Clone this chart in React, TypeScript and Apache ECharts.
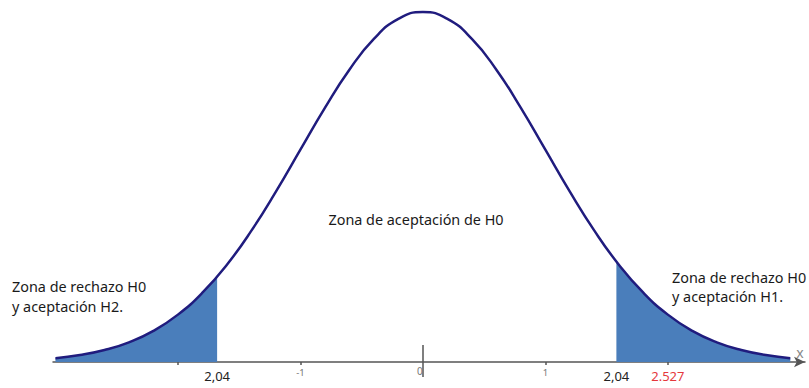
import React, { useEffect, useRef } from "react";
import * as echarts from "echarts";

// z values and read-off density heights of the bell curve
const zValues = [-3, -2.8, -2.6, -2.4, -2.2, -2, -1.8, -1.6, -1.4, -1.2, -1, -0.8, -0.6, -0.4, -0.2, 0, 0.2, 0.4, 0.6, 0.8, 1, 1.2, 1.4, 1.6, 1.8, 2, 2.2, 2.4, 2.6, 2.8, 3];
const density = [0.0044, 0.0079, 0.0136, 0.0224, 0.0355, 0.054, 0.079, 0.1109, 0.1497, 0.1942, 0.242, 0.2897, 0.3332, 0.3683, 0.391, 0.3989, 0.391, 0.3683, 0.3332, 0.2897, 0.242, 0.1942, 0.1497, 0.1109, 0.079, 0.054, 0.0355, 0.0224, 0.0136, 0.0079, 0.0044];

// critical boundaries (where shading stops) and their heights
const leftCut = -1.68;
const leftCutDensity = 0.0973;
const rightCut = 1.58;
const rightCutDensity = 0.1145;

// axis ticks and labels
const tickValues = [-2, -1, 1, 2];
const originTick = [0];
const labelValues = [-1.68, -1, 0, 1, 1.58, 2];
const labelTexts = ["2,04", "-1", "0", "1", "2,04", "2.527"];
const labelStyles = ["n", "g", "z", "g", "n", "r"];

// annotation texts
const centerText = "Zona de aceptación de H0";
const leftText = ["Zona de rechazo H0", "y aceptación H2."];
const rightText = ["Zona de rechazo H0", "y aceptación H1."];

const FONT = "'Noto Sans', 'Open Sans', sans-serif";
const X_MIN = -3.02;
const X_MAX = 3.12;

export default function App() {
  const ref = useRef<HTMLDivElement>(null);

  useEffect(() => {
    if (!ref.current) return;
    const chart = echarts.init(ref.current, undefined, { renderer: "svg" });

    const curve = zValues.map((z, i) => [z, density[i]]);
    const leftArea: number[][] = [];
    const rightArea: number[][] = [];
    zValues.forEach((z, i) => {
      if (z <= leftCut) leftArea.push([z, density[i]]);
    });
    leftArea.push([leftCut, leftCutDensity]);
    rightArea.push([rightCut, rightCutDensity]);
    zValues.forEach((z, i) => {
      if (z >= rightCut) rightArea.push([z, density[i]]);
    });

    const textColor = "#1a1a1a";
    const textSize = 14.4;

    const originAxis = (inside: boolean, length: number) => ({
      type: "value",
      min: X_MIN,
      max: X_MAX,
      position: "bottom",
      offset: 0,
      splitLine: { show: false },
      axisLine: { show: false },
      axisLabel: { show: false },
      axisTick: {
        show: true,
        customValues: originTick,
        inside,
        length,
        lineStyle: { color: "#555", width: 1.5 },
      },
    });

    chart.setOption({
      animation: false,
      grid: { left: 53, right: 4, top: 10, bottom: 26, containLabel: false, outerBoundsMode: "none" },
      xAxis: [
        {
          type: "value",
          min: X_MIN,
          max: X_MAX,
          position: "bottom",
          splitLine: { show: false },
          name: "x",
          nameLocation: "end",
          nameGap: -5,
          nameTextStyle: {
            color: "#888",
            fontSize: 14,
            fontFamily: FONT,
            align: "center",
            verticalAlign: "bottom",
            padding: [0, 0, 3, 0],
          },
          axisLine: {
            onZero: false,
            symbol: ["none", "arrow"],
            symbolSize: [8, 11],
            lineStyle: { color: "#555", width: 1.5 },
          },
          axisTick: {
            show: true,
            customValues: tickValues,
            length: 3,
            lineStyle: { color: "#555", width: 1.5 },
          },
          axisLabel: {
            show: true,
            customValues: labelValues,
            margin: 4,
            formatter: (v: number) => {
              const i = labelValues.findIndex((x) => Math.abs(x - v) < 1e-6);
              if (i < 0) return "";
              return "{" + labelStyles[i] + "|" + labelTexts[i] + "}";
            },
            rich: {
              n: { fontSize: 13, lineHeight: 20, color: "#222", fontFamily: FONT },
              g: { fontSize: 9.5, lineHeight: 12, color: "#777", fontFamily: FONT },
              z: { fontSize: 10, lineHeight: 10, color: "#777", fontFamily: FONT, padding: [0, 6, 0, 0] },
              r: { fontSize: 13, lineHeight: 20, color: "#e5383c", fontFamily: FONT },
            },
          },
        },
        originAxis(true, 17),
        originAxis(false, 15),
      ],
      yAxis: {
        type: "value",
        min: 0,
        max: 0.40122,
        show: false,
      },
      series: [
        {
          type: "line",
          data: leftArea,
          smooth: true,
          symbol: "none",
          lineStyle: { width: 0 },
          areaStyle: { color: "#4a7ebb", opacity: 1 },
          silent: true,
          z: 1,
        },
        {
          type: "line",
          data: rightArea,
          smooth: true,
          symbol: "none",
          lineStyle: { width: 0 },
          areaStyle: { color: "#4a7ebb", opacity: 1 },
          silent: true,
          z: 1,
        },
        {
          type: "line",
          data: curve,
          smooth: true,
          symbol: "none",
          lineStyle: { color: "#201c7e", width: 2.5 },
          silent: true,
          z: 3,
        },
      ],
      graphic: [
        {
          type: "text",
          x: 416,
          y: 219,
          style: { text: centerText, fontSize: textSize, fontFamily: FONT, fill: textColor, align: "center", verticalAlign: "middle" },
        },
        {
          type: "text",
          x: 12,
          y: 286,
          style: { text: leftText[0], fontSize: textSize, fontFamily: FONT, fill: textColor, verticalAlign: "middle" },
        },
        {
          type: "text",
          x: 12,
          y: 306,
          style: { text: leftText[1], fontSize: textSize, fontFamily: FONT, fill: textColor, verticalAlign: "middle" },
        },
        {
          type: "text",
          x: 672,
          y: 277,
          style: { text: rightText[0], fontSize: textSize, fontFamily: FONT, fill: textColor, verticalAlign: "middle" },
        },
        {
          type: "text",
          x: 672,
          y: 296,
          style: { text: rightText[1], fontSize: textSize, fontFamily: FONT, fill: textColor, verticalAlign: "middle" },
        },
      ],
    });

    return () => chart.dispose();
  }, []);

  return (
    <div
      ref={ref}
      style={{ position: "absolute", left: 0, top: 0, width: 809, height: 388, background: "#fff" }}
    />
  );
}
